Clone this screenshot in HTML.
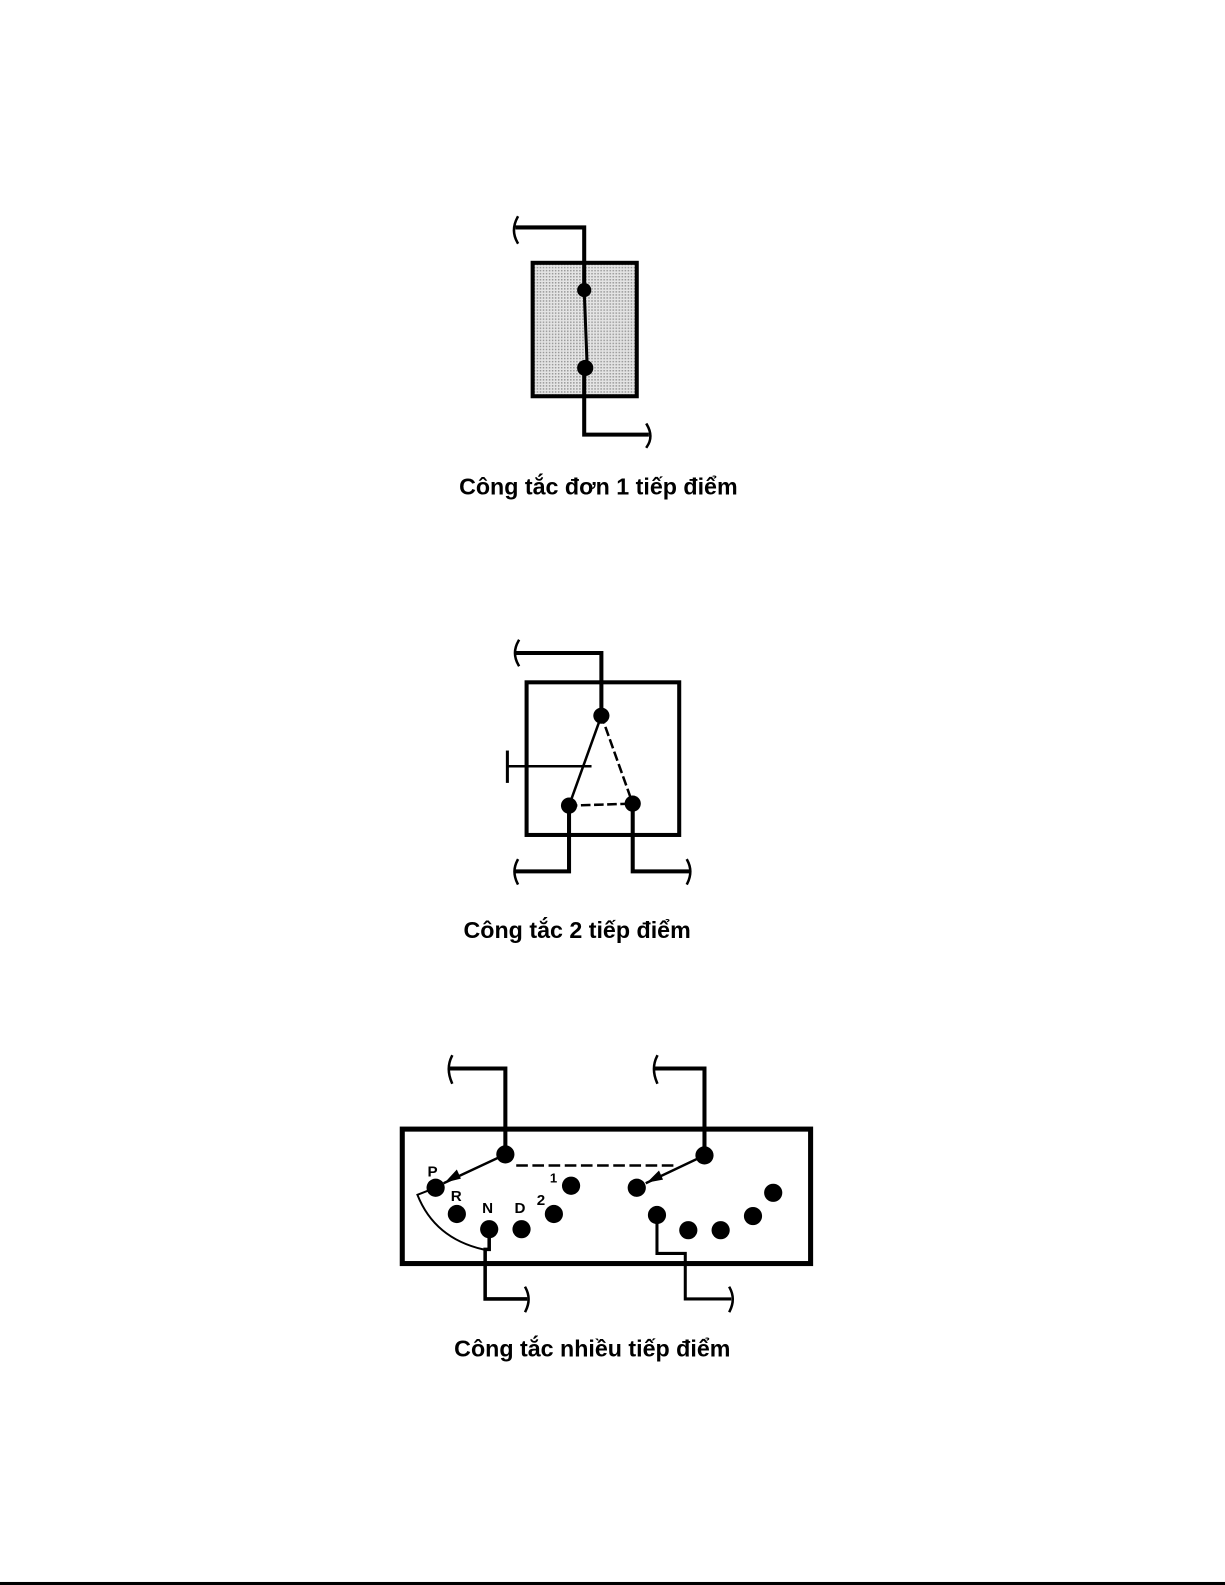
<!DOCTYPE html>
<html><head><meta charset="utf-8"><style>
html,body{margin:0;padding:0;background:#fff}
svg{display:block}
text{font-family:"Liberation Sans",sans-serif}
</style></head><body>
<svg width="1225" height="1585" viewBox="0 0 1212 1568" preserveAspectRatio="none" xmlns="http://www.w3.org/2000/svg">
<defs>
<pattern id="dots" width="3" height="3" patternUnits="userSpaceOnUse">
<rect width="3" height="3" fill="#e4e4e4"/><rect width="1.5" height="1.5" fill="#9a9a9a"/>
</pattern>
</defs>
<g stroke="#000" fill="none" stroke-linecap="square">
<rect x="527" y="260" width="103" height="132" fill="url(#dots)" stroke-width="4"/>
<path d="M512 225 H578 V287" stroke-width="4"/>
<path d="M512 215 Q505 228 512 240" stroke-width="2.5"/>
<path d="M578 287 L581 364" stroke-width="3"/>
<path d="M578 364 V430 H640" stroke-width="4"/>
<path d="M640 420 Q647 432 640 442" stroke-width="2.5"/>
<rect x="521" y="675" width="151" height="151" stroke-width="4"/>
<path d="M512 646 H595 V708" stroke-width="4"/>
<path d="M513 634 Q506 646 513 658" stroke-width="2.5"/>
<path d="M595 708 L563 797" stroke-width="2.5"/>
<path d="M595 708 L626 795 M563 797 L626 795" stroke-width="2.5" stroke-dasharray="7,6"/>
<path d="M502 758 H584" stroke-width="2.5"/>
<path d="M502 744 V773" stroke-width="3"/>
<path d="M563 797 V862 H512" stroke-width="4"/>
<path d="M512 851 Q506 862 512 874" stroke-width="2.5"/>
<path d="M626 795 V862 H680" stroke-width="4"/>
<path d="M680 851 Q686 862 680 874" stroke-width="2.5"/>
<rect x="398" y="1117" width="404" height="133" stroke-width="5"/>
<path d="M447 1057 H500 V1142" stroke-width="4"/>
<path d="M447 1045 Q441 1057 447 1071" stroke-width="2.5"/>
<path d="M650 1057 H697 V1143" stroke-width="4"/>
<path d="M650 1045 Q644 1057 650 1071" stroke-width="2.5"/>
<path d="M512 1153 H668" stroke-width="2.5" stroke-dasharray="9,7"/>
<path d="M500 1142 L440 1170" stroke-width="2.5"/>
<path d="M697 1143 L640 1170" stroke-width="2.5"/>
<path d="M431 1175 L413 1182 Q430 1225 478 1236" stroke-width="2"/>
<path d="M484 1216 V1236 H480 V1285 H520" stroke-width="3.5"/>
<path d="M520 1274 Q526 1285 520 1297" stroke-width="2.5"/>
<path d="M650 1202 V1240 H678 V1285 H722" stroke-width="3"/>
<path d="M722 1274 Q728 1285 722 1297" stroke-width="2.5"/>
</g>
<g fill="#000">
<circle cx="578" cy="287" r="7"/><circle cx="579" cy="364" r="8"/>
<circle cx="595" cy="708" r="8"/><circle cx="563" cy="797" r="8"/><circle cx="626" cy="795" r="8"/>
<circle cx="500" cy="1142" r="9"/><circle cx="697" cy="1143" r="9"/>
<circle cx="431" cy="1175" r="9"/><circle cx="452" cy="1201" r="9"/><circle cx="484" cy="1216" r="9"/>
<circle cx="516" cy="1216" r="9"/><circle cx="548" cy="1201" r="9"/><circle cx="565" cy="1173" r="9"/>
<circle cx="630" cy="1175" r="9"/><circle cx="650" cy="1202" r="9"/><circle cx="681" cy="1217" r="9"/>
<circle cx="713" cy="1217" r="9"/><circle cx="745" cy="1203" r="9"/><circle cx="765" cy="1180" r="9"/>
<path d="M440 1170 L452 1157 L456 1166 Z"/>
<path d="M640 1170 L652 1158 L656 1167 Z"/>
<text x="423" y="1164" font-size="15" font-weight="bold">P</text>
<text x="446" y="1188" font-size="15" font-weight="bold">R</text>
<text x="477" y="1200" font-size="15" font-weight="bold">N</text>
<text x="509" y="1200" font-size="15" font-weight="bold">D</text>
<text x="531" y="1192" font-size="15" font-weight="bold">2</text>
<text x="544" y="1170" font-size="13" font-weight="bold">1</text>
<text x="592" y="489" font-size="23" font-weight="bold" text-anchor="middle">Công tắc đơn 1 tiếp điểm</text>
<text x="571" y="928" font-size="23" font-weight="bold" text-anchor="middle">Công tắc 2 tiếp điểm</text>
<text x="586" y="1342" font-size="23" font-weight="bold" text-anchor="middle">Công tắc nhiều tiếp điểm</text>
</g>
<rect x="0" y="1565" width="1212" height="3" fill="#000"/>
</svg>
</body></html>
